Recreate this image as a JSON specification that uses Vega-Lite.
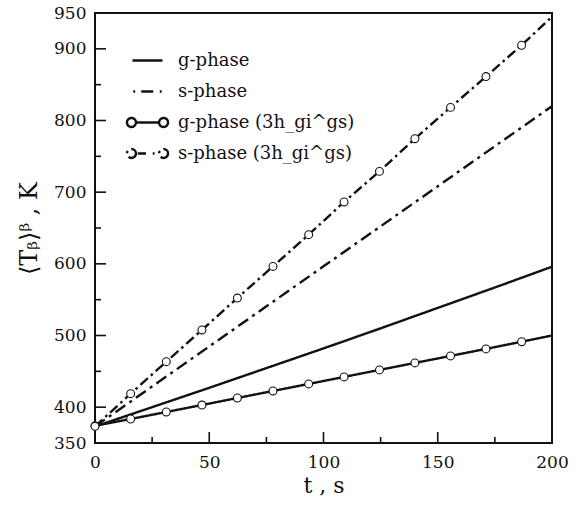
{
  "$schema": "https://vega.github.io/schema/vega-lite/v6.json",
  "width": 457,
  "height": 430,
  "autosize": "none",
  "padding": {"left": 95, "top": 13, "right": 28, "bottom": 63},
  "background": "white",
  "config": {
    "view": {"stroke": "#111", "strokeWidth": 2},
    "font": "DejaVu Serif",
    "axis": {
      "domain": false, "ticks": false, "grid": false,
      "labelFont": "DejaVu Serif", "labelFontSize": 17, "labelColor": "#111",
      "titleFont": "DejaVu Serif", "titleFontWeight": "normal", "titleColor": "#111",
      "labelFlush": false, "labelOverlap": false
    }
  },
  "data": {
    "values": [
      {"series": "g-phase", "t": 0, "T": 373, "marker": false},
      {"series": "g-phase", "t": 25, "T": 400, "marker": false},
      {"series": "g-phase", "t": 50, "T": 427, "marker": false},
      {"series": "g-phase", "t": 75, "T": 454.5, "marker": false},
      {"series": "g-phase", "t": 100, "T": 482, "marker": false},
      {"series": "g-phase", "t": 125, "T": 510, "marker": false},
      {"series": "g-phase", "t": 150, "T": 538.5, "marker": false},
      {"series": "g-phase", "t": 175, "T": 567, "marker": false},
      {"series": "g-phase", "t": 200, "T": 596, "marker": false},
      {"series": "s-phase", "t": 0, "T": 373, "marker": false},
      {"series": "s-phase", "t": 50, "T": 484.75, "marker": false},
      {"series": "s-phase", "t": 100, "T": 596.5, "marker": false},
      {"series": "s-phase", "t": 150, "T": 708.25, "marker": false},
      {"series": "s-phase", "t": 200, "T": 820, "marker": false},
      {"series": "g-phase (3h_gi^gs)", "t": 0, "T": 374, "marker": true},
      {"series": "g-phase (3h_gi^gs)", "t": 15.6, "T": 383.5, "marker": true},
      {"series": "g-phase (3h_gi^gs)", "t": 31.2, "T": 393.3, "marker": true},
      {"series": "g-phase (3h_gi^gs)", "t": 46.8, "T": 403, "marker": true},
      {"series": "g-phase (3h_gi^gs)", "t": 62.3, "T": 412.8, "marker": true},
      {"series": "g-phase (3h_gi^gs)", "t": 77.9, "T": 422.6, "marker": true},
      {"series": "g-phase (3h_gi^gs)", "t": 93.5, "T": 432.4, "marker": true},
      {"series": "g-phase (3h_gi^gs)", "t": 109, "T": 442.2, "marker": true},
      {"series": "g-phase (3h_gi^gs)", "t": 124.5, "T": 452, "marker": true},
      {"series": "g-phase (3h_gi^gs)", "t": 140, "T": 461.7, "marker": true},
      {"series": "g-phase (3h_gi^gs)", "t": 155.6, "T": 471.5, "marker": true},
      {"series": "g-phase (3h_gi^gs)", "t": 171.1, "T": 481.3, "marker": true},
      {"series": "g-phase (3h_gi^gs)", "t": 186.7, "T": 491.3, "marker": true},
      {"series": "g-phase (3h_gi^gs)", "t": 200, "T": 500, "marker": false},
      {"series": "s-phase (3h_gi^gs)", "t": 0, "T": 373.2, "marker": true},
      {"series": "s-phase (3h_gi^gs)", "t": 15.6, "T": 418.8, "marker": true},
      {"series": "s-phase (3h_gi^gs)", "t": 31.2, "T": 463.5, "marker": true},
      {"series": "s-phase (3h_gi^gs)", "t": 46.8, "T": 507.7, "marker": true},
      {"series": "s-phase (3h_gi^gs)", "t": 62.3, "T": 552.3, "marker": true},
      {"series": "s-phase (3h_gi^gs)", "t": 77.9, "T": 596.4, "marker": true},
      {"series": "s-phase (3h_gi^gs)", "t": 93.5, "T": 640.7, "marker": true},
      {"series": "s-phase (3h_gi^gs)", "t": 109, "T": 686.3, "marker": true},
      {"series": "s-phase (3h_gi^gs)", "t": 124.5, "T": 729, "marker": true},
      {"series": "s-phase (3h_gi^gs)", "t": 140, "T": 774.6, "marker": true},
      {"series": "s-phase (3h_gi^gs)", "t": 155.6, "T": 818.3, "marker": true},
      {"series": "s-phase (3h_gi^gs)", "t": 171.1, "T": 861.3, "marker": true},
      {"series": "s-phase (3h_gi^gs)", "t": 186.7, "T": 905, "marker": true},
      {"series": "s-phase (3h_gi^gs)", "t": 200, "T": 945, "marker": false},
      {"tick": "x", "t": 25, "major": false},
      {"tick": "x", "t": 50, "major": true},
      {"tick": "x", "t": 75, "major": false},
      {"tick": "x", "t": 100, "major": true},
      {"tick": "x", "t": 125, "major": false},
      {"tick": "x", "t": 150, "major": true},
      {"tick": "x", "t": 175, "major": false},
      {"tick": "y", "T": 400, "major": true},
      {"tick": "y", "T": 450, "major": false},
      {"tick": "y", "T": 500, "major": true},
      {"tick": "y", "T": 550, "major": false},
      {"tick": "y", "T": 600, "major": true},
      {"tick": "y", "T": 650, "major": false},
      {"tick": "y", "T": 700, "major": true},
      {"tick": "y", "T": 750, "major": false},
      {"tick": "y", "T": 800, "major": true},
      {"tick": "y", "T": 850, "major": false},
      {"tick": "y", "T": 900, "major": true}
    ]
  },
  "layer": [
    {
      "transform": [{"filter": "isValid(datum.series)"}],
      "mark": {"type": "line", "clip": true, "color": "#111"},
      "encoding": {
        "x": {
          "field": "t", "type": "quantitative",
          "scale": {"domain": [0, 200], "nice": false, "zero": false},
          "axis": {
            "orient": "bottom",
            "values": [0, 50, 100, 150, 200],
            "labelPadding": 11,
            "labelOverlap": false,
            "title": "t , s", "titleFontSize": 22, "titlePadding": 5
          }
        },
        "y": {
          "field": "T", "type": "quantitative",
          "scale": {"domain": [350, 950], "nice": false, "zero": false},
          "axis": {
            "orient": "left",
            "values": [350, 400, 500, 600, 700, 800, 900, 950],
            "labelPadding": 9,
            "labelOverlap": false,
            "title": "⟨Tᵦ⟩ᵝ , K", "titleFontSize": 24, "titlePadding": 12
          }
        },
        "strokeDash": {
          "field": "series", "type": "nominal",
          "scale": {
            "domain": ["g-phase", "s-phase", "g-phase (3h_gi^gs)", "s-phase (3h_gi^gs)"],
            "range": [[1, 0], [12, 5, 3, 5], [1, 0], [10, 4, 2.5, 4]]
          },
          "legend": {
            "title": null, "orient": "none", "legendX": 36, "legendY": 31,
            "symbolType": "stroke", "symbolSize": 900, "symbolStrokeColor": "#111",
            "labelFont": "DejaVu Serif", "labelFontSize": 18, "labelColor": "#111", "labelLimit": 400,
            "labelOffset": 14, "rowPadding": 5, "padding": 0,
            "encode": {
              "symbols": {
                "update": {
                  "shape": {"signal": "datum.value === 'g-phase' ? 'M-1,0L1,0' : datum.value === 's-phase' ? 'M-0.95,0L-0.82,0M-0.42,0L0.42,0M0.82,0L0.95,0' : datum.value === 'g-phase (3h_gi^gs)' ? 'M-0.77,0A0.3,0.3,0,1,1,-1.37,0A0.3,0.3,0,1,1,-0.77,0ZM-0.77,0L0.77,0M1.37,0A0.3,0.3,0,1,1,0.77,0A0.3,0.3,0,1,1,1.37,0Z' : 'M-0.77,0A0.3,0.3,0,1,1,-1.37,0A0.3,0.3,0,1,1,-0.77,0ZM-0.65,0L-0.1,0M0.35,0L0.47,0M1.37,0A0.3,0.3,0,1,1,0.77,0A0.3,0.3,0,1,1,1.37,0Z'"},
                  "fill": {"signal": "indexof(datum.value, '3h') >= 0 ? 'white' : 'transparent'"},
                  "stroke": {"value": "#111"},
                  "strokeDash": {"value": [1, 0]},
                  "strokeWidth": {"signal": "indexof(datum.value, '3h') >= 0 ? 1.4 : 2.4"},
                  "opacity": {"value": 1}
                }
              }
            }
          }
        },
        "strokeWidth": {
          "field": "series", "type": "nominal",
          "scale": {
            "domain": ["g-phase", "s-phase", "g-phase (3h_gi^gs)", "s-phase (3h_gi^gs)"],
            "range": [2.4, 2.4, 1.6, 1.9]
          },
          "legend": null
        }
      }
    },
    {
      "transform": [{"filter": "datum.marker === true"}],
      "mark": {"type": "point", "shape": "circle", "filled": true, "fill": "white", "stroke": "#111", "strokeWidth": 1.1, "size": 62, "opacity": 1},
      "encoding": {
        "x": {"field": "t", "type": "quantitative"},
        "y": {"field": "T", "type": "quantitative"}
      }
    },
    {
      "transform": [{"filter": "datum.tick === 'x'"}],
      "mark": {"type": "tick", "orient": "vertical", "clip": true, "color": "#111", "thickness": 1.6, "opacity": 1},
      "encoding": {
        "x": {"field": "t", "type": "quantitative"},
        "y": {"datum": 350, "type": "quantitative"},
        "size": {"condition": {"test": "datum.major", "value": 22}, "value": 12}
      }
    },
    {
      "transform": [{"filter": "datum.tick === 'y'"}],
      "mark": {"type": "tick", "orient": "horizontal", "clip": true, "color": "#111", "thickness": 1.6, "opacity": 1},
      "encoding": {
        "y": {"field": "T", "type": "quantitative"},
        "x": {"datum": 0, "type": "quantitative"},
        "size": {"condition": {"test": "datum.major", "value": 22}, "value": 12}
      }
    }
  ]
}
